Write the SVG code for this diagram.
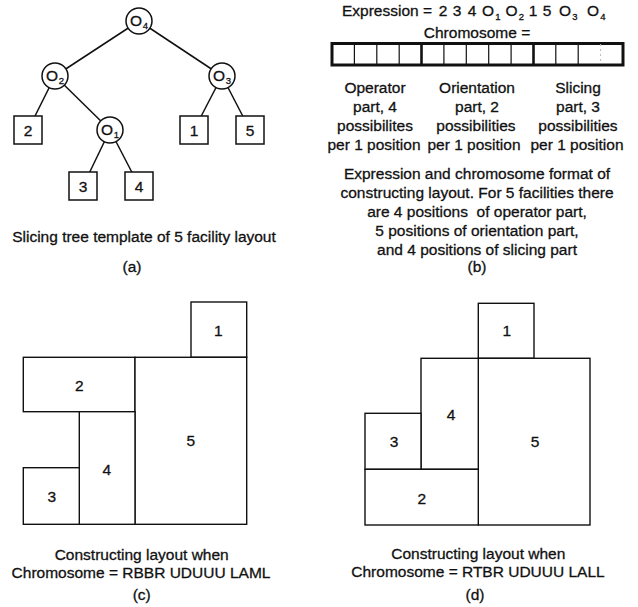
<svg xmlns="http://www.w3.org/2000/svg" width="638" height="607" viewBox="0 0 638 607">
<style>
text{font-family:"Liberation Sans",Arial,sans-serif;fill:#111;font-size:15.5px;stroke:#111;stroke-width:0.3}
.m{text-anchor:middle}
.sub{font-size:9.5px;text-anchor:middle}
.n{fill:#fff;stroke:#111;stroke-width:1.5}
.e{stroke:#111;stroke-width:1.5;fill:none}
.r{fill:#fff;stroke:#111;stroke-width:1.4}
.d{stroke:#111;stroke-width:1.2}
</style>
<rect width="638" height="607" fill="#fff"/>
<!-- (a) slicing tree -->
<g id="edges">
<line class="e" x1="139" y1="21" x2="55" y2="76"/>
<line class="e" x1="139" y1="21" x2="222" y2="76"/>
<line class="e" x1="55" y1="76" x2="28" y2="130"/>
<line class="e" x1="55" y1="76" x2="110" y2="130"/>
<line class="e" x1="222" y1="76" x2="194" y2="130"/>
<line class="e" x1="222" y1="76" x2="250" y2="130"/>
<line class="e" x1="110" y1="130" x2="83" y2="186"/>
<line class="e" x1="110" y1="130" x2="139" y2="186"/>
</g>
<g id="O4"><circle class="n" cx="139" cy="21" r="13"/><text x="136" y="26" class="m">O</text><text x="145.5" y="29" class="sub">4</text></g>
<g id="O2"><circle class="n" cx="55" cy="76" r="13"/><text x="52" y="81" class="m">O</text><text x="61.5" y="84" class="sub">2</text></g>
<g id="O3"><circle class="n" cx="222" cy="76" r="13"/><text x="219" y="81" class="m">O</text><text x="228.5" y="84" class="sub">3</text></g>
<g id="O1"><circle class="n" cx="110" cy="130" r="13"/><text x="107" y="135" class="m">O</text><text x="116.5" y="138" class="sub">1</text></g>
<g id="leaf2"><rect class="n" x="14" y="116" width="28" height="28"/><text x="28" y="135.5" class="m">2</text></g>
<g id="leaf1"><rect class="n" x="180" y="116" width="28" height="28"/><text x="194" y="135.5" class="m">1</text></g>
<g id="leaf5"><rect class="n" x="236" y="116" width="28" height="28"/><text x="250" y="135.5" class="m">5</text></g>
<g id="leaf3"><rect class="n" x="69" y="172" width="28" height="28"/><text x="83" y="191.5" class="m">3</text></g>
<g id="leaf4"><rect class="n" x="125" y="172" width="28" height="28"/><text x="139" y="191.5" class="m">4</text></g>
<text x="144" y="242" class="m">Slicing tree template of 5 facility layout</text>
<text x="132" y="272" class="m">(a)</text>

<!-- (b) expression & chromosome -->
<g id="expression">
<text x="342" y="15.5">Expression =</text>
<text x="443" y="15.5" class="m">2</text>
<text x="457" y="15.5" class="m">3</text>
<text x="472" y="15.5" class="m">4</text>
<text x="488" y="15.5" class="m">O</text><text x="498" y="19.5" class="sub">1</text>
<text x="511.5" y="15.5" class="m">O</text><text x="521.5" y="19.5" class="sub">2</text>
<text x="533" y="15.5" class="m">1</text>
<text x="547" y="15.5" class="m">5</text>
<text x="565" y="15.5" class="m">O</text><text x="575" y="19.5" class="sub">3</text>
<text x="593" y="15.5" class="m">O</text><text x="603" y="19.5" class="sub">4</text>
</g>
<text x="477" y="38" class="m">Chromosome =</text>
<g id="chromosome">
<rect x="332" y="43.5" width="291" height="21.5" fill="#fff" stroke="#111" stroke-width="3"/>
<line class="d" x1="354.4" y1="44" x2="354.4" y2="64"/>
<line class="d" x1="376.8" y1="44" x2="376.8" y2="64"/>
<line class="d" x1="399.2" y1="44" x2="399.2" y2="64"/>
<line stroke="#111" stroke-width="2.6" x1="421.5" y1="44" x2="421.5" y2="64"/>
<line class="d" x1="443.9" y1="44" x2="443.9" y2="64"/>
<line class="d" x1="466.3" y1="44" x2="466.3" y2="64"/>
<line class="d" x1="488.7" y1="44" x2="488.7" y2="64"/>
<line class="d" x1="511.1" y1="44" x2="511.1" y2="64"/>
<line stroke="#111" stroke-width="2.6" x1="533.5" y1="44" x2="533.5" y2="64"/>
<line class="d" x1="555.8" y1="44" x2="555.8" y2="64"/>
<line class="d" x1="578.2" y1="44" x2="578.2" y2="64"/>
<line stroke="#bbb" stroke-width="1" stroke-dasharray="2 3" x1="600.6" y1="44" x2="600.6" y2="64"/>
</g>
<g id="operator-label">
<text x="375" y="93" class="m">Operator</text>
<text x="375" y="112" class="m">part, 4</text>
<text x="375" y="131" class="m">possibilites</text>
<text x="374" y="150" class="m">per 1 position</text>
</g>
<g id="orientation-label">
<text x="477" y="93" class="m">Orientation</text>
<text x="477" y="112" class="m">part, 2</text>
<text x="476" y="131" class="m">possibilities</text>
<text x="474" y="150" class="m">per 1 position</text>
</g>
<g id="slicing-label">
<text x="578" y="93" class="m">Slicing</text>
<text x="578" y="112" class="m">part, 3</text>
<text x="578" y="131" class="m">possibilities</text>
<text x="577" y="150" class="m">per 1 position</text>
</g>
<text x="477" y="179" class="m">Expression and chromosome format of</text>
<text x="477" y="198" class="m">constructing layout. For 5 facilities there</text>
<text x="477" y="217" class="m" xml:space="preserve">are 4 positions  of operator part,</text>
<text x="477" y="236" class="m">5 positions of orientation part,</text>
<text x="477" y="255" class="m">and 4 positions of slicing part</text>
<text x="477" y="272" class="m">(b)</text>

<!-- (c) layout -->
<g id="c-1"><rect class="r" x="191" y="302" width="55.7" height="55.3"/><text x="218.3" y="335.5" class="m">1</text></g>
<g id="c-2"><rect class="r" x="23.3" y="357.3" width="111.7" height="54.4"/><text x="79.3" y="391" class="m">2</text></g>
<g id="c-5"><rect class="r" x="135" y="357.3" width="111.7" height="167"/><text x="190.7" y="446" class="m">5</text></g>
<g id="c-4"><rect class="r" x="79.3" y="411.7" width="55.7" height="112.6"/><text x="106.7" y="474.5" class="m">4</text></g>
<g id="c-3"><rect class="r" x="23.3" y="467.7" width="56" height="56.6"/><text x="51.7" y="502" class="m">3</text></g>
<text x="141.7" y="560" class="m">Constructing layout when</text>
<text x="141" y="578" class="m">Chromosome = RBBR UDUUU LAML</text>
<text x="141.7" y="600" class="m">(c)</text>

<!-- (d) layout -->
<g id="d-1"><rect class="r" x="478.3" y="303.3" width="55.7" height="55"/><text x="506.7" y="336" class="m">1</text></g>
<g id="d-5"><rect class="r" x="478.3" y="358.3" width="111.7" height="166.7"/><text x="535" y="447" class="m">5</text></g>
<g id="d-4"><rect class="r" x="421" y="358.3" width="57.3" height="111"/><text x="451" y="419.5" class="m">4</text></g>
<g id="d-3"><rect class="r" x="365" y="413.3" width="56" height="56"/><text x="394" y="447" class="m">3</text></g>
<g id="d-2"><rect class="r" x="365" y="469.3" width="113.3" height="55.7"/><text x="421.7" y="503.5" class="m">2</text></g>
<text x="478.3" y="558.5" class="m">Constructing layout when</text>
<text x="478" y="577" class="m">Chromosome = RTBR UDUUU LALL</text>
<text x="475" y="600" class="m">(d)</text>
</svg>
